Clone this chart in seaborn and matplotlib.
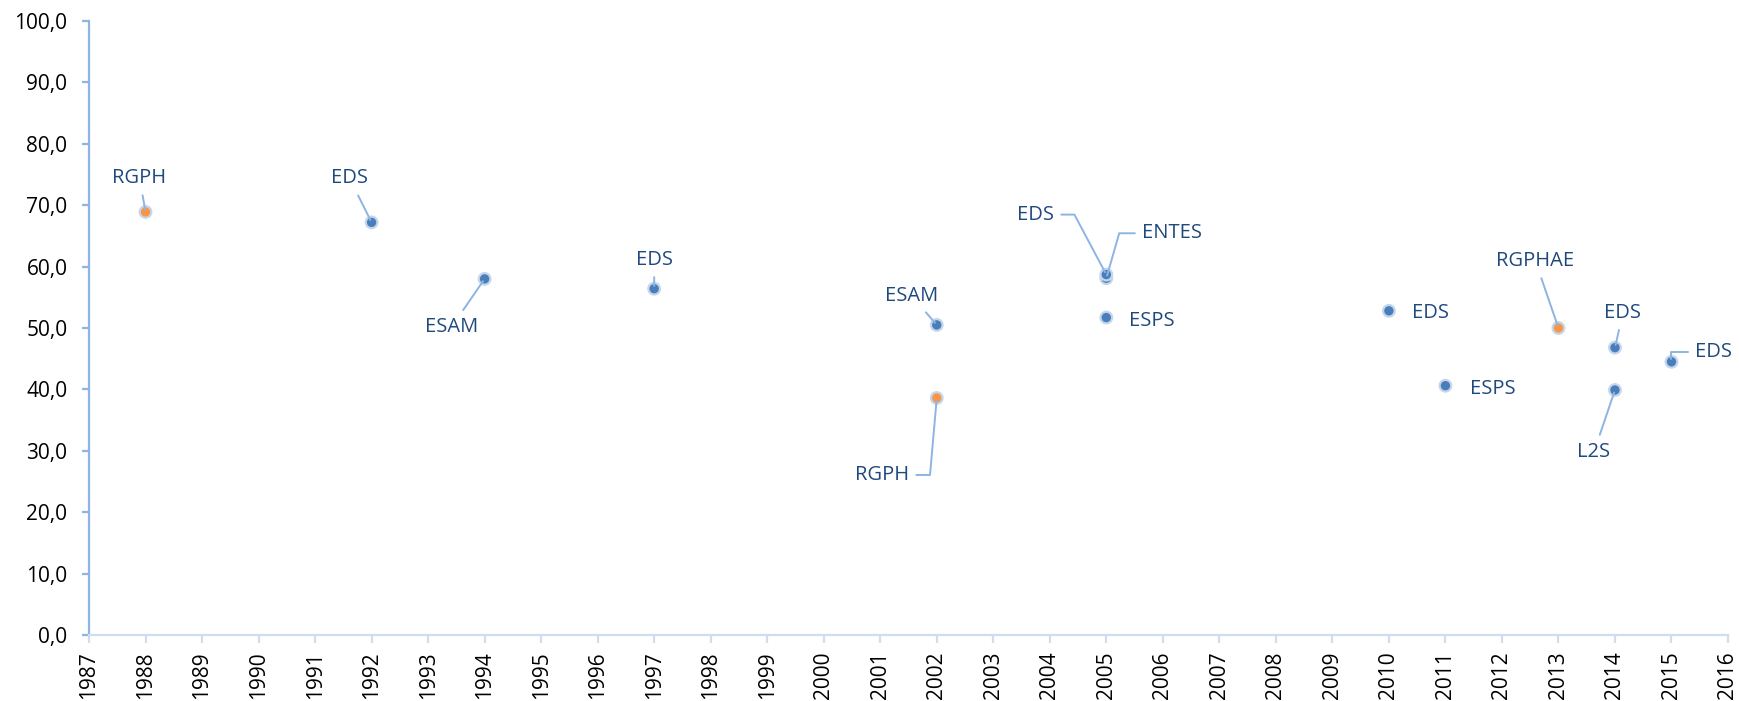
import matplotlib
matplotlib.use("Agg")
import matplotlib.pyplot as plt
import seaborn as sns
import pandas as pd
from matplotlib.ticker import FuncFormatter, MultipleLocator

# ---- data ----
years = [1988, 1992, 1994, 1997, 2002, 2002, 2005, 2005, 2005, 2010, 2011, 2013, 2014, 2014, 2015]
values = [68.9, 67.2, 58.0, 56.4, 50.5, 38.6, 58.1, 58.7, 51.7, 52.8, 40.6, 50.0, 46.8, 39.9, 44.5]
sources = ["RGPH", "EDS", "ESAM", "EDS", "ESAM", "RGPH", "ENTES", "EDS", "ESPS", "EDS", "ESPS",
           "RGPHAE", "EDS", "L2S", "EDS"]
kinds = ["census", "survey", "survey", "survey", "survey", "census", "survey", "survey", "survey",
         "survey", "survey", "census", "survey", "survey", "survey"]
year_ticks = list(range(1987, 2017))

# label placement (offset in pixels from the point) and leader style
label_dx = [-6, -22, -33, 0, -25, -55, 66, -71, 46, 42, 47, -23, 8, -21, 42]
label_dy = [36, 46, -46, 31, 31, -75, 47, 62, -1, 0, -1, 69, 37, -60, 12]
leader = ["line", "line", "line", "line", "line", "angle,angleA=0,angleB=85,rad=0",
          "angle,angleA=0,angleB=74,rad=0", "angle,angleA=0,angleB=-62,rad=0",
          None, None, None, "line", "line", "line", "angle,angleA=0,angleB=90,rad=0"]

FONT = "Open Sans"
TEXT_COL = "#1F497D"
LINE_COL = "#8DB4E2"

sns.set_theme(style="white")
plt.rcParams["font.family"] = [FONT, "DejaVu Sans"]

df = pd.DataFrame({"year": years, "value": values, "source": sources, "kind": kinds})

fig = plt.figure(figsize=(17.4, 7.01), dpi=100)
ax = fig.add_axes([89 / 1740, 66 / 701, 1639 / 1740, 614 / 701])

sns.scatterplot(data=df, x="year", y="value", hue="kind",
                palette={"census": "#F79646", "survey": "#4A7EBB"},
                s=70, edgecolor="#C5D6EC", linewidth=1.6, legend=False, ax=ax, zorder=3)

for i in range(len(years)):
    style = leader[i]
    kw = dict(xy=(years[i], values[i]), xytext=(label_dx[i], label_dy[i] - 2),
              textcoords="offset pixels", ha="center", va="center",
              fontsize=14.5, color=TEXT_COL, annotation_clip=False, zorder=4)
    if style is None:
        ax.annotate(sources[i], **kw)
    else:
        cs = "arc3,rad=0" if style == "line" else style
        ax.annotate(sources[i], arrowprops=dict(arrowstyle="-", color=LINE_COL, lw=1.4,
                                                 connectionstyle=cs, shrinkA=3, shrinkB=2),
                    **kw)

ax.set_xlim(1987, 2016)
ax.set_ylim(0, 100)
ax.set_xticks(year_ticks)
ax.set_xticklabels([str(y) for y in year_ticks], rotation=90)
ax.yaxis.set_major_locator(MultipleLocator(10))
ax.yaxis.set_major_formatter(FuncFormatter(lambda v, p: f"{v:.1f}".replace(".", ",")))
ax.set_xlabel("")
ax.set_ylabel("")

for s in ["top", "right"]:
    ax.spines[s].set_visible(False)
ax.spines["left"].set_color("#8DB4E2")
ax.spines["left"].set_linewidth(1.6)
ax.spines["bottom"].set_color("#CFDDF1")
ax.spines["bottom"].set_linewidth(1.6)

ax.tick_params(axis="y", which="major", left=True, length=5, width=1.6, color="#8DB4E2",
               labelsize=15, labelcolor="black", pad=10.5)
ax.tick_params(axis="x", which="major", bottom=True, length=5.5, width=1.6, color="#CFDDF1",
               labelsize=15, labelcolor="black", pad=6.5)
ax.grid(False)

fig.savefig("out.png", dpi=100)
